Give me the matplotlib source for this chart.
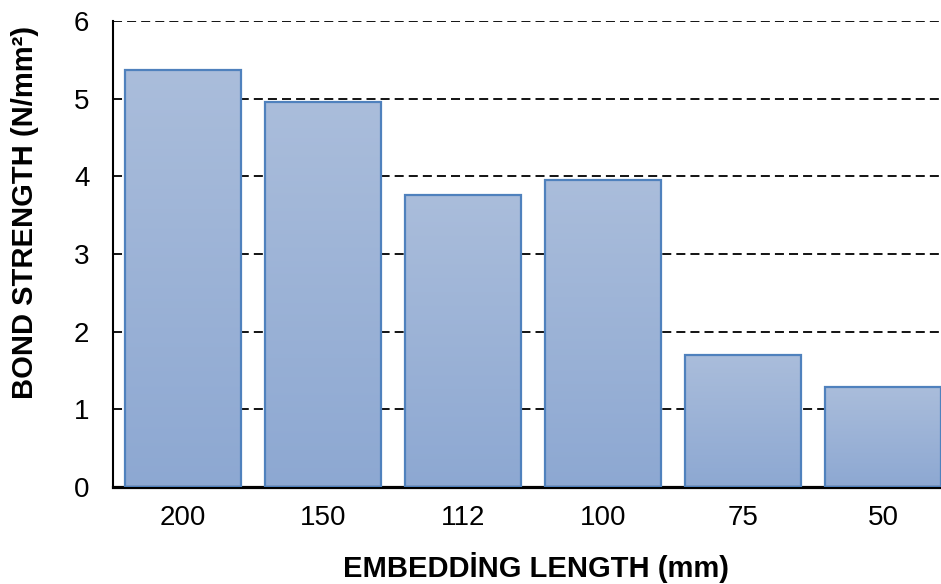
import matplotlib
matplotlib.use("Agg")
import matplotlib.pyplot as plt
import numpy as np
from matplotlib.colors import LinearSegmentedColormap

plt.rcParams['font.family'] = ['Liberation Sans', 'DejaVu Sans']

# values
lengths = ['200', '150', '112', '100', '75', '50']
strength = [5.37, 4.96, 3.76, 3.95, 1.70, 1.29]

fig = plt.figure(figsize=(9.41, 5.84), dpi=100)
ax = fig.add_axes([113 / 941, 1 - 487 / 584, 1 - 113 / 941, (487 - 21) / 584])

x = np.arange(len(lengths))
bars = ax.bar(x, strength, width=0.835, color='none', edgecolor='#4F81BD',
              linewidth=1.6, zorder=3)

# vertical gradient fill clipped to each bar
cmap = LinearSegmentedColormap.from_list('grad', ['#8DA8D2', '#AABDDB'])
grad = np.linspace(0, 1, 256).reshape(-1, 1)
for b in bars:
    x0, y0 = b.get_x(), b.get_y()
    w, h = b.get_width(), b.get_height()
    im = ax.imshow(grad, cmap=cmap, origin='lower', aspect='auto',
                   extent=[x0, x0 + w, y0, y0 + h], zorder=2)
    im.set_clip_path(b)

ax.set_xlim(-0.5, 5.414)
ax.set_ylim(0, 6)
ax.set_yticks(range(0, 7))
ax.set_xticks(x)
ax.set_xticklabels(lengths)

ax.yaxis.grid(True, color='black', linestyle=(0, (5, 2.8)), linewidth=1.3, zorder=1)
ax.set_axisbelow(True)

for s in ['top', 'right']:
    ax.spines[s].set_visible(False)
ax.spines['left'].set_linewidth(1.5)
ax.spines['bottom'].set_linewidth(2.3)
ax.tick_params(axis='x', length=0, labelsize=20, pad=13)
ax.tick_params(axis='y', length=0, labelsize=20, pad=17)

ax.set_xlabel('EMBEDDİNG LENGTH (mm)', fontsize=21, fontweight='bold', va='center')
ax.set_ylabel('BOND STRENGTH (N/mm²)', fontsize=21, fontweight='bold', va='center')
ax.xaxis.set_label_coords(0.511, -0.1738)
ax.yaxis.set_label_coords(-0.1063, 0.59)

fig.savefig('out.png', dpi=100)
